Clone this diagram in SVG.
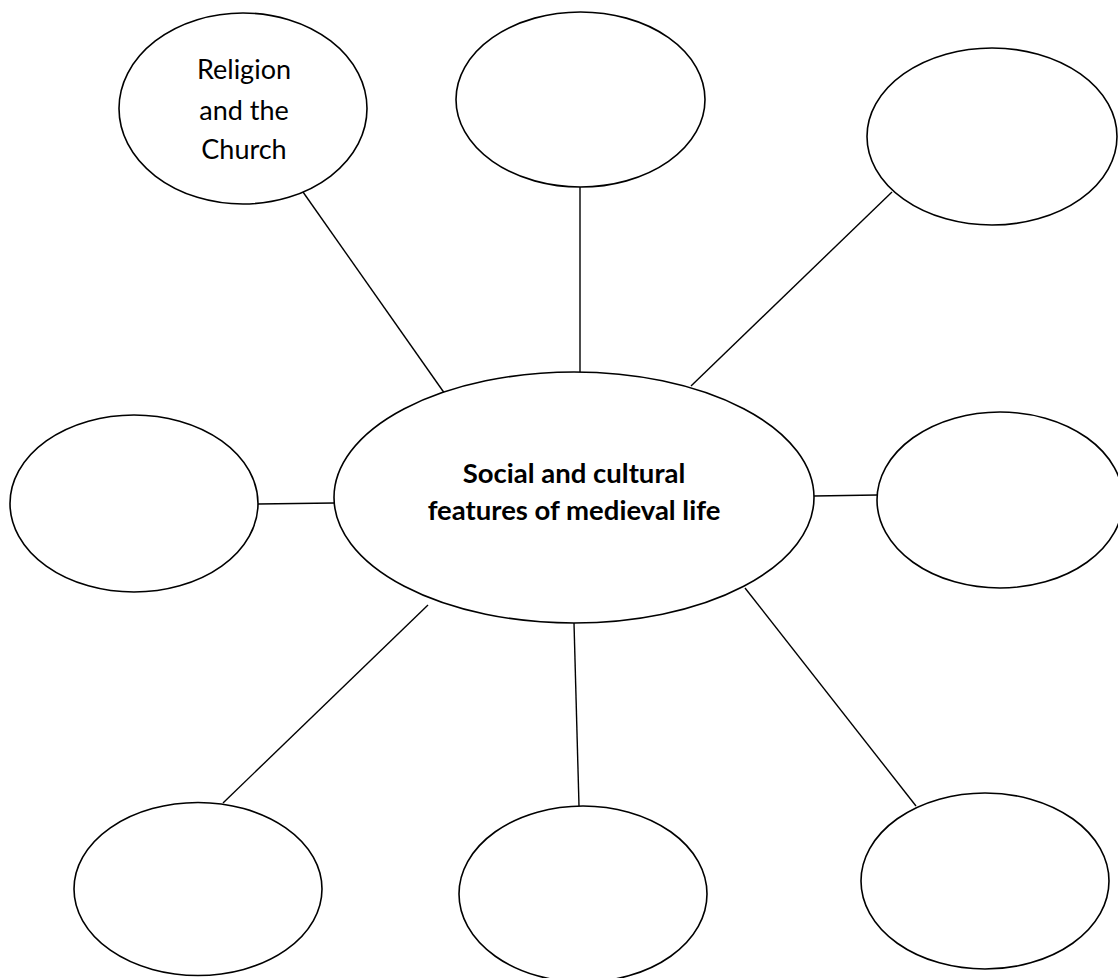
<svg xmlns="http://www.w3.org/2000/svg" width="1118" height="978" viewBox="0 0 1118 978">
<style>
.n{fill:#fff;stroke:#000;stroke-width:1.6}
.c line{stroke:#000;stroke-width:1.4}
.t{font-family:Lato,"Open Sans","Liberation Sans",sans-serif;font-size:27px;text-anchor:middle;fill:#000}
.b{font-weight:bold;font-size:27.5px}
</style>
<rect width="1118" height="978" fill="#fff"/>
<g class="c" id="connectors">
<line x1="303" y1="192" x2="445" y2="394"/>
<line x1="580" y1="187" x2="580" y2="372"/>
<line x1="892" y1="192" x2="691" y2="386"/>
<line x1="258" y1="504" x2="334" y2="503"/>
<line x1="814" y1="496" x2="877" y2="495"/>
<line x1="428" y1="605" x2="223" y2="803"/>
<line x1="574" y1="623" x2="579" y2="806"/>
<line x1="745" y1="588" x2="916" y2="806"/>
</g>
<g id="center"><ellipse class="n" cx="574" cy="497.5" rx="240" ry="125.5"/>
<text class="t b" x="574" y="483">Social and cultural</text>
<text class="t b" x="574" y="520">features of medieval life</text></g>
<g id="n1"><ellipse class="n" cx="243" cy="108.5" rx="124" ry="95.5"/>
<text class="t" x="244" y="79">Religion</text>
<text class="t" x="244" y="120">and the</text>
<text class="t" x="244" y="159">Church</text></g>
<g id="n2"><ellipse class="n" cx="580.5" cy="99.5" rx="124.5" ry="87.5"/></g>
<g id="n3"><ellipse class="n" cx="992" cy="136.5" rx="125" ry="88.5"/></g>
<g id="n4"><ellipse class="n" cx="134" cy="503.5" rx="124" ry="88.5"/></g>
<g id="n5"><ellipse class="n" cx="1000" cy="500" rx="123" ry="88"/></g>
<g id="n6"><ellipse class="n" cx="198" cy="889" rx="124" ry="86.5"/></g>
<g id="n7"><ellipse class="n" cx="583" cy="894" rx="124" ry="88"/></g>
<g id="n8"><ellipse class="n" cx="985" cy="881" rx="124" ry="88"/></g>
</svg>
